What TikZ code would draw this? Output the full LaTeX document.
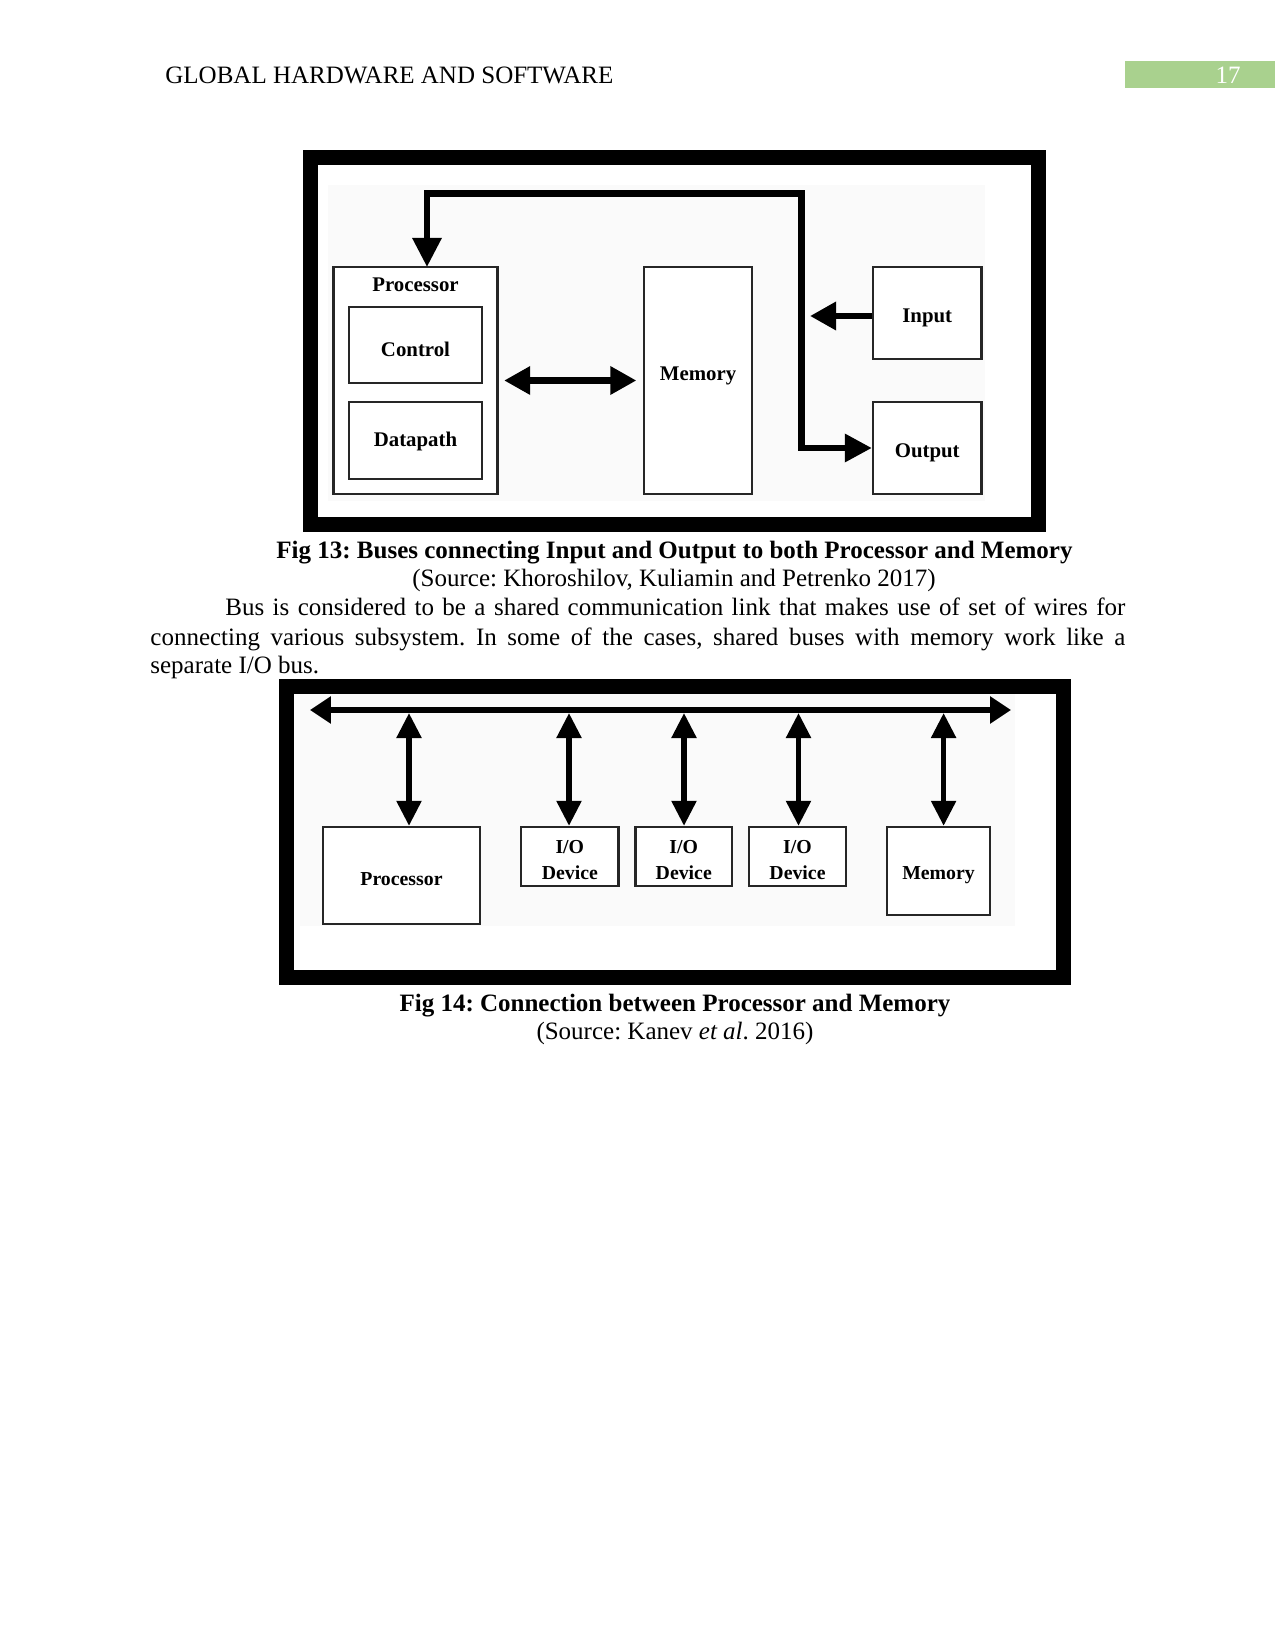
\documentclass[tikz,border=0pt]{standalone}
\usepackage{fontspec}
\setmainfont{Liberation Serif}
\usetikzlibrary{arrows.meta}
\definecolor{hdrgreen}{HTML}{A9D18E}
\frenchspacing
\begin{document}
\frenchspacing
\begin{tikzpicture}[x=0.48pt,y=-0.48pt,
  box/.style={draw=black!85, line width=1.1pt, fill=white, inner sep=0pt},
  labA/.style={font=\fontsize{10}{12}\selectfont\bfseries, inner sep=0pt},
  labB/.style={font=\fontsize{9.5}{12.5}\selectfont\bfseries, align=center, inner sep=0pt},
  bus/.style={line width=3pt},
  framebox/.style={line width=7.2pt},
  body/.style={font=\fontsize{12}{14}\selectfont, inner sep=0pt},
]
\useasboundingbox (0,0) rectangle (1275,1650);

% header
\node[body, anchor=base west] (hdr) at (165,84) {GLOBAL HARDWARE AND SOFTWARE};
\fill[hdrgreen] (1125,61) rectangle (1275,88);
\node[body, anchor=base, text=white] (pg) at (1228,84) {17};

% ---------------- Fig 13 ----------------
\draw[framebox] (310.5,157.5) rectangle (1038.5,524.5);
\fill[black!2] (328,185) rectangle (985,501);

\node[box, minimum width={164*0.48pt}, minimum height={227*0.48pt}] (proc) at (415.5,380.5) {};
\node[labA, anchor=base] (proclab) at (415.5,292) {Processor};
\node[box, minimum width={133*0.48pt}, minimum height={76*0.48pt},
  label={[labA, yshift=-1.9pt]center:Control}] (ctrl) at (415.5,345) {};
\node[box, minimum width={133*0.48pt}, minimum height={77*0.48pt},
  label={[labA, yshift=-0.5pt]center:Datapath}] (dp) at (415.5,440.5) {};
\node[box, minimum width={108*0.48pt}, minimum height={227*0.48pt},
  label={[labA, yshift=2pt]center:Memory}] (mem) at (698,380.5) {};
\node[box, minimum width={108.5*0.48pt}, minimum height={92*0.48pt},
  label={[labA, yshift=-2.2pt]center:Input}] (in) at (927.25,313) {};
\node[box, minimum width={108.5*0.48pt}, minimum height={92*0.48pt},
  label={[labA, yshift=-2.4pt]center:Output}] (out) at (927.25,448) {};

\coordinate (tl) at (427,193.6);
\coordinate (tr) at (801.6,193.6);
\coordinate (inTip) at (810,316);
\coordinate (pt) at (427,267);

\draw[bus, {Triangle[length=14pt,width=13.5pt]}-{Triangle[length=13pt,width=13pt]}]
  (pt) -- (tl) -- (tr) |- (out.west);
\draw[bus, -{Triangle[length=12.5pt,width=13pt]}] (in.west |- inTip) -- (inTip);
\draw[bus, {Triangle[length=12.5pt,width=13pt]}-{Triangle[length=12.5pt,width=13pt]},
  shorten <=5.5*0.48pt, shorten >=6.5*0.48pt] (proc.east) -- (mem.west);

\node[body, font=\fontsize{12}{14}\selectfont\bfseries, anchor=base] (cap13) at (674.5,558)
  {Fig 13: Buses connecting Input and Output to both Processor and Memory};
\node[body, anchor=base] (src13) at (674,586) {(Source: Khoroshilov, Kuliamin and Petrenko 2017)};

% paragraph
\node[body, anchor=base west] (p1) at (225,615)
  {\makebox[432pt][s]{Bus is considered to be a shared communication link that makes use of set of wires for}};
\node[body, anchor=base west] (p2) at (150,645)
  {\makebox[468pt][s]{connecting various subsystem. In some of the cases, shared buses with memory work like a}};
\node[body, anchor=base west] (p3) at (150,673) {separate I/O bus.};

% ---------------- Fig 14 ----------------
\draw[framebox] (286.5,686) rectangle (1063.5,977);
\fill[black!2] (300,694) rectangle (1015,926);

\node[box, minimum width={157*0.48pt}, minimum height={97*0.48pt},
  label={[labB, yshift=-1.5pt]center:Processor}] (bp) at (401.5,875.5) {};
\node[box, minimum width={97.6*0.48pt}, minimum height={59*0.48pt},
  label={[labB, yshift=-1.5pt]center:I/O\\Device}] (io1) at (569.8,856.5) {};
\node[box, minimum width={96.5*0.48pt}, minimum height={59*0.48pt},
  label={[labB, yshift=-1.5pt]center:I/O\\Device}] (io2) at (683.75,856.5) {};
\node[box, minimum width={97*0.48pt}, minimum height={59*0.48pt},
  label={[labB, yshift=-1.5pt]center:I/O\\Device}] (io3) at (797.5,856.5) {};
\node[box, minimum width={103*0.48pt}, minimum height={88*0.48pt},
  label={[labB, yshift=-1.9pt]center:Memory}] (bm) at (938.5,871) {};

\coordinate (busL) at (310,710);
\coordinate (busR) at (1011,710);
\draw[bus, {Triangle[length=10pt,width=12.5pt]}-{Triangle[length=10pt,width=12.5pt]}] (busL) -- (busR);

\coordinate (a1) at (409,713);
\coordinate (a2) at (569,713);
\coordinate (a3) at (684,713);
\coordinate (a4) at (798.5,713);
\coordinate (a5) at (943.6,713);
\tikzset{varrow/.style={line width=2.6pt, {Triangle[length=12pt,width=11.5pt]}-{Triangle[length=12pt,width=11.5pt]}}}
\draw[varrow] (a1) -- (a1 |- bp.north);
\draw[varrow] (a2) -- (a2 |- io1.north);
\draw[varrow] (a3) -- (a3 |- io2.north);
\draw[varrow] (a4) -- (a4 |- io3.north);
\draw[varrow] (a5) -- (a5 |- bm.north);

\node[body, font=\fontsize{12}{14}\selectfont\bfseries, anchor=base] (cap14) at (675,1011)
  {Fig 14: Connection between Processor and Memory};
\node[body, anchor=base] (src14) at (675,1039) {(Source: Kanev \textit{et al}. 2016)};
\end{tikzpicture}
\end{document}
